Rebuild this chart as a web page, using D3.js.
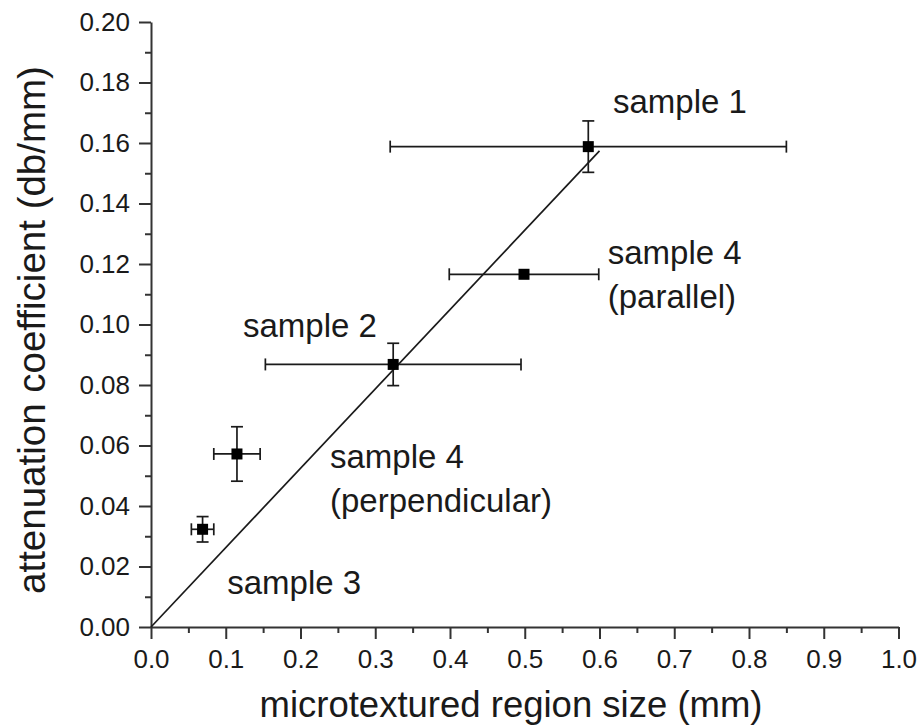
<!DOCTYPE html>
<html>
<head>
<meta charset="utf-8">
<script src="https://cdn.jsdelivr.net/npm/d3@7"></script>
<style>
  body { margin: 0; background: #fff; }
  svg { display: block; font-family: "Liberation Sans", Arial, sans-serif; }
</style>
</head>
<body>
<div id="chart"></div>
<script>
// data
const samples   = ["sample 1", "sample 2", "sample 3", "sample 4 (parallel)", "sample 4 (perpendicular)"];
const sizeMm    = [0.585, 0.324, 0.069, 0.499, 0.115];
const sizeErr   = [0.265, 0.171, 0.015, 0.100, 0.031];
const atten     = [0.1588, 0.0868, 0.0323, 0.1166, 0.0572];
const attenErr  = [0.0085, 0.0070, 0.0042, 0, 0.0090];

// linear fit through the origin
const fitSlope = 0.2623;
const fitRange = [0, 0.6];

const xTicks = d3.range(0, 1.0001, 0.1);
const yTicks = d3.range(0, 0.2001, 0.02);

// text annotations, anchored in data units
const notes = [
  { x: 0.618, y: 0.170, lines: ["sample 1"] },
  { x: 0.611, y: 0.120, lines: ["sample 4", "(parallel)"] },
  { x: 0.123, y: 0.0959, lines: ["sample 2"] },
  { x: 0.2395, y: 0.0525, lines: ["sample 4", "(perpendicular)"] },
  { x: 0.102, y: 0.0109, lines: ["sample 3"] }
];

const W = 918, H = 726;
const m = { left: 151, top: 22, right: 19.5, bottom: 99 };

const svg = d3.select("#chart").append("svg")
  .attr("width", W).attr("height", H);

const x = d3.scaleLinear().domain([0, 1]).range([m.left, W - m.right]);
const y = d3.scaleLinear().domain([0, 0.2]).range([H - m.bottom, m.top]);

const ink = "#1a1a1a";

// minor ticks
svg.append("g")
  .attr("transform", `translate(0,${y(0)})`)
  .call(d3.axisBottom(x).tickValues(d3.range(0.05, 1, 0.1)).tickSize(6).tickFormat(""))
  .call(g => g.select(".domain").remove());
svg.append("g")
  .attr("transform", `translate(${x(0)},0)`)
  .call(d3.axisLeft(y).tickValues(d3.range(0.01, 0.2, 0.02)).tickSize(6).tickFormat(""))
  .call(g => g.select(".domain").remove());

// major axes
svg.append("g")
  .attr("transform", `translate(0,${y(0)})`)
  .call(d3.axisBottom(x).tickValues(xTicks).tickSize(12).tickSizeOuter(0).tickPadding(11).tickFormat(d3.format(".1f")));
svg.append("g")
  .attr("transform", `translate(${x(0)},0)`)
  .call(d3.axisLeft(y).tickValues(yTicks).tickSize(12).tickSizeOuter(0).tickPadding(9).tickFormat(d3.format(".2f")));

svg.selectAll(".tick line, .domain").attr("stroke", "#333").attr("stroke-width", 2);
svg.selectAll(".tick text").attr("font-size", 26).attr("fill", ink)
  .attr("font-family", "Liberation Sans, Arial, sans-serif");

// axis titles
svg.append("text")
  .attr("x", 511).attr("y", 717)
  .attr("text-anchor", "middle")
  .attr("font-size", 36.5).attr("fill", ink)
  .text("microtextured region size (mm)");
svg.append("text")
  .attr("transform", `translate(45,${330}) rotate(-90)`)
  .attr("text-anchor", "middle")
  .attr("font-size", 38.5).attr("fill", ink)
  .text("attenuation coefficient (db/mm)");

// fit line
svg.append("line")
  .attr("x1", x(fitRange[0])).attr("y1", y(fitSlope * fitRange[0]))
  .attr("x2", x(fitRange[1])).attr("y2", y(fitSlope * fitRange[1]))
  .attr("stroke", ink).attr("stroke-width", 1.7);

// error bars + markers
const pts = samples.map((s, i) => ({
  name: s, x: sizeMm[i], dx: sizeErr[i], y: atten[i], dy: attenErr[i]
}));
const cap = 6;
const eb = svg.append("g").attr("stroke", ink).attr("stroke-width", 1.7);

pts.forEach(d => {
  const cx = x(d.x), cy = y(d.y);
  if (d.dx > 0) {
    eb.append("line").attr("x1", x(d.x - d.dx)).attr("x2", x(d.x + d.dx)).attr("y1", cy).attr("y2", cy);
    eb.append("line").attr("x1", x(d.x - d.dx)).attr("x2", x(d.x - d.dx)).attr("y1", cy - cap).attr("y2", cy + cap);
    eb.append("line").attr("x1", x(d.x + d.dx)).attr("x2", x(d.x + d.dx)).attr("y1", cy - cap).attr("y2", cy + cap);
  }
  if (d.dy > 0) {
    eb.append("line").attr("x1", cx).attr("x2", cx).attr("y1", y(d.y - d.dy)).attr("y2", y(d.y + d.dy));
    eb.append("line").attr("x1", cx - cap).attr("x2", cx + cap).attr("y1", y(d.y - d.dy)).attr("y2", y(d.y - d.dy));
    eb.append("line").attr("x1", cx - cap).attr("x2", cx + cap).attr("y1", y(d.y + d.dy)).attr("y2", y(d.y + d.dy));
  }
});

svg.selectAll(".pt")
  .data(pts)
  .join("rect")
  .attr("class", "pt")
  .attr("x", d => x(d.x) - 5.5).attr("y", d => y(d.y) - 5.5)
  .attr("width", 11).attr("height", 11)
  .attr("fill", "#000");

// annotations
notes.forEach(n => {
  const t = svg.append("text")
    .attr("x", x(n.x)).attr("y", y(n.y))
    .attr("font-size", 33).attr("fill", ink);
  n.lines.forEach((l, i) => {
    t.append("tspan").attr("x", x(n.x)).attr("dy", i === 0 ? 0 : 44).text(l);
  });
});
</script>
</body>
</html>
